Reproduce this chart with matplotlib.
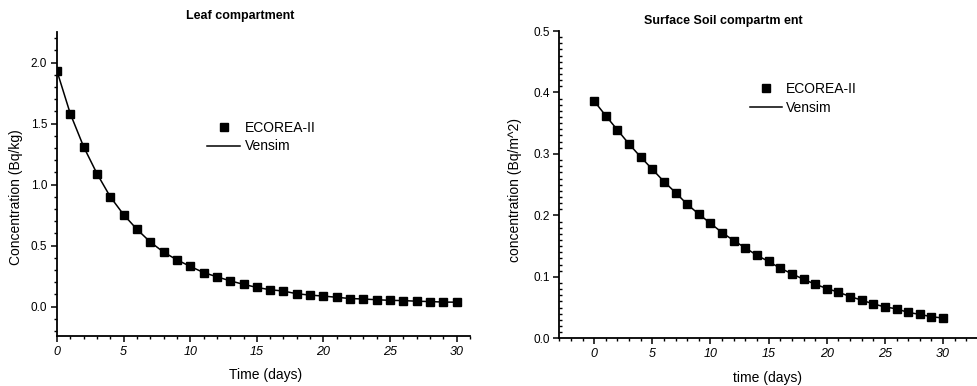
import matplotlib
matplotlib.use("Agg")
import matplotlib.pyplot as plt
from matplotlib.ticker import MultipleLocator

plt.rcParams['font.family'] = ['Liberation Sans', 'DejaVu Sans']

days = list(range(31))
leaf_ecorea = [1.93, 1.58, 1.31, 1.09, 0.90, 0.754, 0.634, 0.53, 0.447, 0.384,
               0.33, 0.28, 0.245, 0.212, 0.183, 0.158, 0.139, 0.128, 0.106, 0.095,
               0.087, 0.077, 0.067, 0.063, 0.057, 0.052, 0.050, 0.045, 0.042, 0.038,
               0.037]
leaf_vensim = leaf_ecorea
soil_ecorea = [0.386, 0.362, 0.339, 0.316, 0.295, 0.275, 0.255, 0.237, 0.218, 0.202,
               0.187, 0.172, 0.159, 0.147, 0.135, 0.125, 0.114, 0.105, 0.096, 0.088,
               0.081, 0.075, 0.068, 0.062, 0.056, 0.051, 0.048, 0.042, 0.039, 0.035,
               0.033]
soil_vensim = soil_ecorea

W, H = 978, 386
fig = plt.figure(figsize=(W / 100, H / 100), dpi=100)

def px_axes(x0, x1, ytop, ybot):
    return fig.add_axes([x0 / W, (H - ybot) / H, (x1 - x0) / W, (ybot - ytop) / H])

def style(ax):
    for s in ['top', 'right']:
        ax.spines[s].set_visible(False)
    for s in ['left', 'bottom']:
        ax.spines[s].set_linewidth(1.3)
    ax.tick_params(which='major', direction='out', length=4, width=1.1, labelsize=8.5, pad=3)
    ax.tick_params(axis='x', which='major', labelsize=9)
    ax.tick_params(which='minor', direction='out', length=2.5, width=1.0)
    for lab in ax.get_xticklabels():
        lab.set_fontstyle('italic')

# Left panel
ax1 = px_axes(57, 470, 32, 336)
ax1.plot(days, leaf_vensim, color='black', lw=1.1, label='Vensim', zorder=2)
ax1.plot(days, leaf_ecorea, ls='none', marker='s', ms=5.5, color='black', label='ECOREA-II', zorder=3)
ax1.set_xlim(0, 31)
ax1.set_ylim(-0.24, 2.25)
ax1.xaxis.set_minor_locator(MultipleLocator(1))
ax1.yaxis.set_minor_locator(MultipleLocator(0.1))
ax1.set_xticks([0, 5, 10, 15, 20, 25, 30])
ax1.set_yticks([0.0, 0.5, 1.0, 1.5, 2.0])
style(ax1)
ax1.set_xlabel('Time (days)', fontsize=10)
ax1.xaxis.set_label_coords(0.504, -0.105)
ax1.set_ylabel('Concentration (Bq/kg)', fontsize=10)
ax1.yaxis.set_label_coords(-0.082, 0.457)
ax1.text(0.443, 1.053, 'Leaf compartment', transform=ax1.transAxes, ha='center', va='center',
         fontsize=9, fontweight='bold')
h, l = ax1.get_legend_handles_labels()
ax1.legend([h[1], h[0]], [l[1], l[0]], loc='center left', bbox_to_anchor=(207 / W, (H - 137) / H),
           bbox_transform=fig.transFigure, frameon=False, fontsize=10, borderpad=0,
           borderaxespad=0, handlelength=2.4, handletextpad=0.3, labelspacing=0.35)

# Right panel
ax2 = px_axes(559.3, 978, 31, 338.3)
ax2.plot(days, soil_vensim, color='black', lw=1.1, label='Vensim', zorder=2)
ax2.plot(days, soil_ecorea, ls='none', marker='s', ms=5.5, color='black', label='ECOREA-II', zorder=3)
ax2.set_xlim(-3, 33)
ax2.set_ylim(0, 0.5)
ax2.xaxis.set_minor_locator(MultipleLocator(1))
ax2.yaxis.set_minor_locator(MultipleLocator(0.01))
ax2.set_xticks([0, 5, 10, 15, 20, 25, 30])
ax2.set_yticks([0.0, 0.1, 0.2, 0.3, 0.4, 0.5])
style(ax2)
ax2.tick_params(axis='y', which='minor', direction='in', length=2.5)
ax2.set_xlabel('time (days)', fontsize=10)
ax2.xaxis.set_label_coords(0.498, -0.107)
ax2.set_ylabel('concentration (Bq/m^2)', fontsize=10)
ax2.yaxis.set_label_coords(-0.089, 0.483)
ax2.text(0.391, 1.033, 'Surface Soil compartm ent', transform=ax2.transAxes, ha='center', va='center',
         fontsize=9, fontweight='bold')
h, l = ax2.get_legend_handles_labels()
ax2.legend([h[1], h[0]], [l[1], l[0]], loc='center left', bbox_to_anchor=(750 / W, (H - 98.5) / H),
           bbox_transform=fig.transFigure, frameon=False, fontsize=10, borderpad=0,
           borderaxespad=0, handlelength=2.3, handletextpad=0.3, labelspacing=0.4)

fig.savefig('out.png', dpi=100)
